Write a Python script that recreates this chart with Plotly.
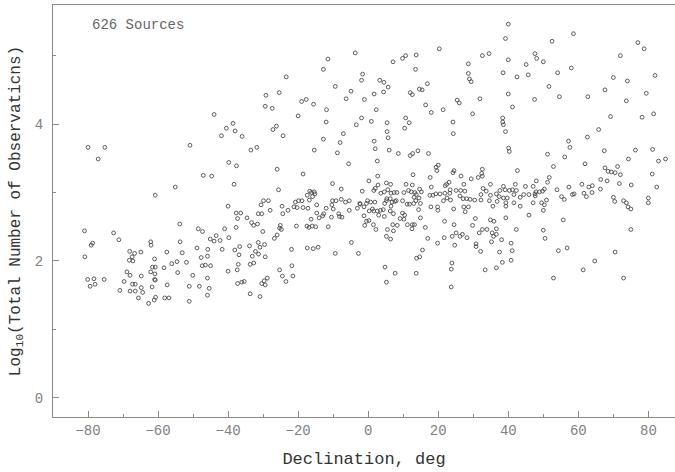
import plotly.graph_objects as go

south_band = [
    (-77.1,3.49),(-33.5,3.62),(-39.8,3.44),(-37.6,3.39),(-47.1,3.25),(-44.7,3.24),(-38.3,3.12),(-55.1,3.08),
    (-60.8,2.96),(-40.0,2.80),(-37.7,2.70),(-36.4,2.70),(-31.4,2.69),(-37.3,2.62),(-34.6,2.63),(-33.3,2.56),
    (-32.7,2.52),(-31.6,2.54),(-81.0,2.44),(-72.7,2.41),(-53.8,2.54),(-48.5,2.47),(-47.3,2.43),(-41.0,2.47),
    (-37.7,2.49),(-43.4,2.37),(-45.1,2.32),(-44.0,2.29),(-42.3,2.30),(-39.8,2.34),(-78.7,2.26),(-79.1,2.23),
    (-71.2,2.31),(-62.1,2.28),(-62.0,2.23),(-53.7,2.28),(-48.9,2.19),(-45.8,2.17),(-41.7,2.17),(-38.1,2.16),
    (-36.7,2.21),(-33.9,2.22),(-32.2,2.14),(-30.9,2.20),(-68.1,2.14),(-66.7,2.11),(-64.9,2.13),(-57.5,2.13),
    (-53.1,2.12),(-80.9,2.06),(-67.4,2.06),(-68.2,2.01),(-67.2,2.00),(-61.0,2.03),(-45.9,2.07),(-47.7,2.05),
    (-36.9,2.09),(-33.1,2.07),(-31.3,2.10),(-56.1,1.96),(-54.6,1.99),(-51.9,1.98),(-47.4,1.93),(-46.5,1.94),
    (-45.0,1.93),(-37.1,1.95),(-33.7,1.95),(-32.7,1.97),(-61.6,1.91),(-60.8,1.91),(-58.3,1.90),(-62.1,1.84),
    (-60.9,1.81),(-54.4,1.83),(-50.1,1.79),(-37.4,1.87),(-40.0,1.85),(-80.1,1.73),(-78.3,1.74),(-75.4,1.73),
    (-68.9,1.84),(-68.0,1.79),(-64.8,1.78),(-61.0,1.73),(-60.8,1.72),(-45.9,1.75),(-79.4,1.63),(-78.0,1.66),
    (-69.7,1.70),(-67.3,1.66),(-66.5,1.66),(-64.8,1.61),(-61.7,1.62),(-57.4,1.65),(-51.1,1.63),(-48.2,1.63),
    (-45.4,1.60),(-37.3,1.67),(-36.1,1.69),(-35.4,1.70),(-70.9,1.57),(-68.0,1.56),(-66.5,1.56),(-64.4,1.54),
    (-65.6,1.46),(-60.7,1.47),(-61.1,1.43),(-58.1,1.46),(-56.9,1.46),(-51.1,1.41),(-45.9,1.50),(-33.7,1.52),
    (-30.9,1.48),(-62.7,1.38),
]

south_high = [
    (-44.0,4.14),(-41.9,3.83),(-40.5,3.94),(-38.6,4.01),(-38.0,3.90),(-36.0,3.82),(-31.8,3.66),(-50.9,3.69),
    (-80.0,3.66),(-75.2,3.66),
]

top_region = [
    (40.0,5.46),(39.2,5.25),(58.6,5.32),(52.5,5.21),(77.0,5.19),(78.8,5.10),(20.3,5.10),(-3.7,5.04),
    (47.6,5.03),(13.7,5.01),(10.7,5.00),(9.8,4.96),(32.6,5.00),(34.5,5.03),(72.0,5.00),(48.1,4.96),
    (50.0,4.91),(7.1,4.91),(-11.5,4.95),(40.0,4.94),(28.6,4.88),(45.1,4.87),(-12.8,4.80),(13.5,4.80),
    (58.0,4.82),(28.6,4.74),(38.5,4.75),(54.1,4.75),(81.9,4.71),(-23.4,4.69),(-1.6,4.73),(45.7,4.72),
    (42.5,4.69),(28.9,4.66),(29.4,4.62),(-1.9,4.64),(3.3,4.64),(4.5,4.61),(16.9,4.59),(70.0,4.68),
    (74.0,4.63),(-9.4,4.55),(5.7,4.54),(51.6,4.55),(-29.2,4.42),(-25.4,4.46),(-4.9,4.48),(14.6,4.51),
    (15.4,4.50),(12.0,4.46),(12.6,4.43),(1.7,4.44),(4.4,4.47),(40.0,4.44),(54.6,4.40),(62.7,4.40),
    (67.6,4.50),(79.4,4.45),(-29.4,4.26),(-27.4,4.23),(-19.0,4.33),(-17.7,4.36),(-15.6,4.29),(-6.3,4.37),
    (-1.1,4.36),(-11.9,4.21),(2.3,4.21),(16.4,4.28),(18.0,4.17),(21.4,4.21),(25.4,4.35),(26.0,4.31),
    (31.9,4.37),(29.8,4.15),(41.2,4.25),(47.5,4.36),(73.7,4.34),(81.5,4.15),(-20.0,4.12),(-1.9,4.09),
    (10.7,4.09),(38.4,4.09),(69.2,4.11),(78.2,4.10),
]

mid_upper = [
    (-26.2,3.97),(-27.2,3.92),(-24.3,3.83),(-12.0,4.03),(-3.4,3.99),(0.9,4.04),(5.4,4.02),(11.7,4.02),
    (10.4,3.94),(24.2,4.03),(24.3,3.86),(-7.1,3.86),(-8.0,3.73),(-12.8,3.78),(-15.4,3.62),(-8.8,3.58),
    (5.4,3.89),(5.7,3.80),(1.7,3.75),(2.0,3.64),(6.0,3.62),(8.6,3.57),(12.7,3.57),(14.2,3.61),(17.2,3.57),
]

mid_band = [
    (12.0,3.54),(2.6,3.46),(-5.6,3.42),(-26.0,3.34),(-18.6,3.27),(19.4,3.37),(20.0,3.40),(19.6,3.32),
    (12.8,3.26),(17.7,3.22),(2.7,3.24),(0.2,3.17),(-10.2,3.13),(-7.7,3.05),(-25.6,3.04),(2.8,3.11),
    (5.2,3.14),(6.4,3.12),(10.8,3.12),(12.6,3.11),(18.0,3.08),(22.4,3.12),(23.1,3.15),(-16.7,3.02),
    (-16.2,3.00),(-15.4,3.01),(-15.2,2.98),(-15.9,2.94),(-17.4,2.96),(-1.7,3.02),(1.6,3.03),(2.0,3.06),
    (3.6,2.99),(4.6,3.01),(5.6,3.04),(6.5,2.99),(7.4,3.00),(8.2,3.00),(10.2,3.00),(11.5,3.03),
    (12.3,3.01),(13.3,3.00),(13.7,2.97),(14.7,3.05),(15.2,3.01),(17.6,2.96),(18.5,2.96),(19.3,2.98),
    (20.5,2.98),(21.9,2.99),(23.3,2.99),(22.5,2.92),(-29.9,2.88),(-28.5,2.88),(-30.6,2.82),(-20.8,2.86),
    (-19.9,2.88),(-18.9,2.88),(-16.8,2.89),(-10.2,2.88),(-9.2,2.88),(-7.7,2.90),(-6.5,2.86),(-5.4,2.88),
    (-14.7,2.82),(-24.6,2.80),(-28.0,2.74),(-30.4,2.69),(-22.9,2.74),(-24.4,2.69),(-21.2,2.79),(-20.3,2.78),
    (-18.6,2.78),(-17.2,2.77),(-12.0,2.77),(-10.4,2.82),(-10.0,2.76),(-10.5,2.64),(-8.4,2.69),(-8.2,2.65),
    (-7.5,2.64),(-5.4,2.74),(-14.7,2.70),(-12.7,2.69),(-13.0,2.66),(-14.0,2.63),(-16.3,2.61),(-11.4,2.50),
    (-20.5,2.51),(-17.5,2.51),(-16.9,2.49),(-16.0,2.51),(-15.0,2.50),(-25.1,2.52),(-25.3,2.48),(-24.8,2.46),
    (-26.0,2.38),(-26.8,2.33),(-30.1,2.43),(-2.4,2.84),(-3.1,2.77),(-2.3,2.83),(-1.2,2.79),(-0.5,2.84),
    (-0.2,2.88),(0.7,2.86),(1.9,2.86),(1.2,2.76),(0.3,2.73),(1.6,2.73),(2.6,2.73),(3.5,2.74),
    (4.3,2.75),(4.7,2.84),(5.2,2.88),(5.3,2.91),(6.3,2.91),(6.8,2.86),(6.5,2.80),(6.3,2.73),
    (7.6,2.87),(8.0,2.88),(9.8,2.88),(11.1,2.83),(11.8,2.83),(13.0,2.84),(13.6,2.88),(13.1,2.93),
    (14.5,2.92),(14.9,2.84),(14.4,2.75),(7.2,2.69),(9.8,2.70),(3.0,2.67),(4.6,2.65),(-1.2,2.66),
    (-0.5,2.58),(0.2,2.59),(-1.0,2.52),(1.5,2.53),(2.2,2.46),(5.5,2.46),(7.0,2.53),(7.2,2.44),
    (8.3,2.52),(9.1,2.62),(10.2,2.61),(10.4,2.67),(11.2,2.53),(12.6,2.53),(13.2,2.53),(12.5,2.47),
    (14.9,2.63),(16.3,2.49),(17.0,2.33),(19.8,2.26),(21.7,2.34),(21.8,2.58),(19.9,2.74),(19.8,2.79),
    (21.5,2.88),(22.0,3.10),(17.9,2.79),
]

mid_low = [
    (-31.4,2.27),(-29.6,2.24),(-29.4,2.06),(-21.9,2.17),(-17.4,2.19),(-15.7,2.18),(-14.3,2.20),(-9.4,2.11),
    (-4.8,2.27),(-2.8,2.11),(-25.3,1.87),(-21.8,1.93),(-24.5,1.78),(-21.5,1.78),(-23.5,1.70),(-28.8,1.75),
    (-29.7,1.71),(-30.4,1.67),(-29.4,1.65),(4.8,1.91),(7.7,1.82),(5.2,1.69),(13.7,1.82),(13.8,2.04),
    (14.7,2.06),(15.5,2.16),(6.4,2.32),(5.2,2.36),
]

north_band = [
    (38.4,4.03),(38.6,3.99),(39.2,3.89),(65.8,3.92),(62.6,3.81),(57.2,3.75),(57.6,3.66),(67.4,3.61),
    (76.3,3.62),(81.2,3.63),(51.2,3.56),(40.1,3.65),(40.3,3.60),(56.1,3.52),(74.3,3.49),(82.9,3.46),
    (84.9,3.49),(61.9,3.42),(52.9,3.38),(67.6,3.36),(71.2,3.38),(68.5,3.31),(69.4,3.30),(70.5,3.29),
    (72.0,3.26),(81.1,3.27),(42.6,3.32),(32.6,3.34),(24.5,3.32),(24.2,3.29),(32.4,3.28),(32.6,3.24),
    (26.5,3.24),(31.4,3.22),(29.4,3.20),(51.7,3.22),(48.0,3.17),(51.2,3.15),(66.4,3.19),(68.2,3.17),
    (75.1,3.11),(82.4,3.08),(71.7,3.13),(27.3,3.12),(34.9,3.12),(42.0,3.12),(44.9,3.09),(47.1,3.09),
    (32.8,3.06),(33.7,3.02),(38.6,3.09),(37.6,3.03),(39.1,3.04),(40.3,3.03),(41.2,3.04),(42.3,3.03),
    (23.4,3.04),(25.1,3.03),(26.4,3.03),(27.6,3.02),(53.9,3.04),(57.3,3.08),(61.0,3.12),(63.0,3.08),
    (64.0,3.10),(66.3,3.05),(63.9,3.00),(61.6,2.99),(58.3,2.97),(58.8,2.98),(55.2,2.94),(56.0,2.90),
    (62.3,2.94),(70.0,2.93),(70.4,2.87),(72.9,2.88),(73.7,2.85),(74.2,2.79),(75.0,2.76),(80.0,2.92),
    (80.0,2.85),(47.6,2.98),(47.9,3.01),(48.9,3.01),(49.8,3.02),(50.3,3.05),(47.7,2.95),(50.9,2.89),
    (50.3,2.82),(50.0,2.74),(49.5,2.85),(32.2,2.97),(34.9,2.96),(36.6,2.98),(37.4,2.94),(38.6,2.92),
    (39.7,2.92),(41.6,2.97),(43.4,2.93),(44.4,2.97),(45.9,2.97),(26.2,2.95),(27.1,2.91),(28.1,2.91),
    (29.1,2.90),(30.4,2.89),(32.2,2.89),(34.6,2.88),(36.8,2.87),(39.3,2.85),(41.6,2.85),(47.1,2.85),
    (35.6,2.80),(39.3,2.80),(43.4,2.80),(23.5,2.89),(24.4,2.76),(27.3,2.79),(28.6,2.79),(27.7,2.72),
]

north_low = [
    (45.9,2.67),(39.3,2.63),(55.7,2.60),(30.6,2.62),(34.9,2.60),(35.9,2.58),(24.5,2.53),(29.8,2.52),
    (32.6,2.46),(33.9,2.46),(36.6,2.47),(42.3,2.46),(50.0,2.45),(75.0,2.46),(31.7,2.41),(35.4,2.41),
    (36.6,2.39),(35.8,2.36),(25.1,2.41),(26.9,2.39),(26.2,2.36),(28.2,2.34),(24.0,2.36),(50.5,2.33),
    (38.1,2.31),(35.2,2.28),(24.7,2.23),(30.8,2.25),(30.8,2.21),(40.8,2.26),(32.1,2.14),(37.5,2.13),
    (41.1,2.15),(54.3,2.15),(56.8,2.19),(70.5,2.13),(23.9,1.97),(38.3,1.98),(40.8,2.01),(23.7,1.88),
    (33.4,1.87),(36.6,1.90),(64.7,2.00),(61.4,1.87),(52.9,1.75),(72.9,1.75),(23.7,1.62),
]

x_ticks = [-80, -60, -40, -20, 0, 20, 40, 60, 80]
x_tick_text = ["\u221280", "\u221260", "\u221240", "\u221220", "0", "20", "40", "60", "80"]
y_ticks = [0, 2, 4]

groups = [south_band, south_high, top_region, mid_upper, mid_band, mid_low, north_band, north_low]
dec = [p[0] for g in groups for p in g]
logn = [p[1] for g in groups for p in g]

MONO = "Liberation Mono, DejaVu Sans Mono, monospace"

fig = go.Figure()
fig.add_trace(go.Scatter(
    x=dec, y=logn, mode="markers",
    marker=dict(symbol="circle-open", size=3.8, color="#4a4a4a", line=dict(width=0.9, color="#4a4a4a")),
    showlegend=False, hoverinfo="skip",
))

axis_common = dict(
    showgrid=False, zeroline=False, showline=True, linecolor="#8a8a8a", linewidth=1,
    ticks="inside", tickcolor="#8a8a8a", tickwidth=1, ticklen=6,
    tickfont=dict(family=MONO, size=14, color="#808080"),
    minor=dict(ticks="inside", ticklen=3, tickcolor="#8a8a8a", tickwidth=1),
)

fig.update_xaxes(
    range=[-90, 87.6], tickvals=x_ticks, ticktext=x_tick_text, mirror=True,
    minor_dtick=10, minor_tick0=0,
    title=dict(text="Declination, deg", font=dict(family=MONO, size=17, color="#333333"), standoff=14),
    **axis_common,
)
fig.update_yaxes(
    range=[-0.28, 5.74], tickvals=y_ticks, mirror=False,
    minor_dtick=1, minor_tick0=0,
    title=dict(text="Log<sub>10</sub>(Total Number of Observaticns)", font=dict(family=MONO, size=16, color="#333333"), standoff=10),
    ticklabelstandoff=6,
    **axis_common,
)

fig.add_annotation(
    x=-79.5, y=5.45, xref="x", yref="y", text="626 Sources", showarrow=False,
    xanchor="left", yanchor="middle", font=dict(family=MONO, size=14, color="#666666"),
)

fig.update_layout(
    width=675, height=472, margin=dict(l=53, r=0, t=5, b=55),
    paper_bgcolor="white", plot_bgcolor="white",
)

fig.write_html("out.html")
